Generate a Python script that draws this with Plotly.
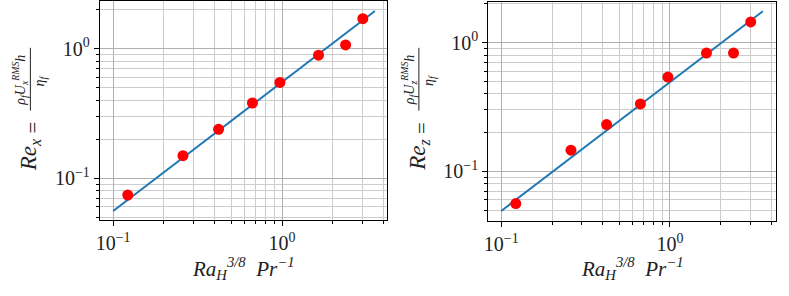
import plotly.graph_objects as go

# ---- data ----
x_vals = [0.122, 0.259, 0.421, 0.668, 0.972, 1.645, 2.38, 3.01]
rex_vals = [0.074, 0.149, 0.238, 0.380, 0.548, 0.889, 1.067, 1.70]
rez_vals = [0.0563, 0.146, 0.231, 0.334, 0.540, 0.828, 0.828, 1.446]

fit_x = [0.1, 3.55]
fit_rex = [0.0557, 1.95]
fit_rez = [0.0493, 1.75]

major_x = [0.1, 1]
major_x_text = ["10<sup>−1</sup>", "10<sup>0</sup>"]
major_y = [0.1, 1]
major_y_text = ["10<sup>−1</sup>", "10<sup>0</sup>"]
minor_x = [0.2, 0.3, 0.4, 0.5, 0.6, 0.7, 0.8, 0.9, 2, 3, 4]
minor_y = [0.05, 0.06, 0.07, 0.08, 0.09, 0.2, 0.3, 0.4, 0.5, 0.6, 0.7, 0.8, 0.9, 2]

W, H = 789, 296
FONT = "Liberation Serif, DejaVu Serif, Times New Roman, serif"
LINE_C = "#1f77b4"
DOT_C = "#ff0000"


def px(x):
    return x / W


def py(y):
    return 1 - y / H


fig = go.Figure()
fig.add_trace(go.Scatter(x=fit_x, y=fit_rex, mode="lines", line=dict(color=LINE_C, width=2),
                         xaxis="x", yaxis="y", showlegend=False))
fig.add_trace(go.Scatter(x=x_vals, y=rex_vals, mode="markers", marker=dict(color=DOT_C, size=11),
                         xaxis="x", yaxis="y", showlegend=False, cliponaxis=False))
fig.add_trace(go.Scatter(x=fit_x, y=fit_rez, mode="lines", line=dict(color=LINE_C, width=2),
                         xaxis="x2", yaxis="y2", showlegend=False))
fig.add_trace(go.Scatter(x=x_vals, y=rez_vals, mode="markers", marker=dict(color=DOT_C, size=11),
                         xaxis="x2", yaxis="y2", showlegend=False, cliponaxis=False))


def axis_common(vals, text, minor_vals, rng, domain, anchor):
    return dict(
        type="log", range=rng, domain=domain, anchor=anchor,
        tickmode="array", tickvals=vals, ticktext=text,
        ticks="outside", ticklen=5, tickwidth=1, tickcolor="black",
        showline=True, linecolor="black", linewidth=1, mirror=True,
        showgrid=True, gridcolor="#b0b0b0", gridwidth=1,
        zeroline=False,
        tickfont=dict(family=FONT, size=20, color="#222"),
        minor=dict(tickmode="array", tickvals=minor_vals, ticks="outside", ticklen=3,
                   tickwidth=1, tickcolor="black", showgrid=True,
                   gridcolor="#cccccc", gridwidth=1),
    )


fig.update_layout(
    width=W, height=H,
    margin=dict(l=0, r=0, t=0, b=0),
    paper_bgcolor="white", plot_bgcolor="white",
    xaxis=axis_common(major_x, major_x_text, minor_x, [-1.079, 0.622],
                      [px(96.3), px(385)], "y"),
    yaxis=axis_common(major_y, major_y_text, minor_y, [-1.325, 0.367],
                      [py(220), py(0)], "x"),
    xaxis2=axis_common(major_x, major_x_text, minor_x, [-1.077, 0.627],
                       [px(486.7), px(775.7)], "y2"),
    yaxis2=axis_common(major_y, major_y_text, minor_y, [-1.387, 0.311],
                       [py(221), py(1.5)], "x2"),
)

annotations = []
shapes = []


def add_text(text, xc, yc, size, angle=0):
    annotations.append(dict(text=text, x=px(xc), y=py(yc), xref="paper", yref="paper",
                            xanchor="center", yanchor="middle", showarrow=False,
                            textangle=angle, font=dict(family=FONT, size=size, color="#222")))


# x titles
xtitle = "<i>Ra<sub>H</sub><sup>3/8</sup></i>  <i>Pr<sup>−1</sup></i>"
add_text(xtitle, 240.7, 268.5, 21)
add_text(xtitle, 631, 268.5, 21)

# y titles (fraction built from pieces)
for (cx, sub) in [(0, "x"), (390.5, "z")]:
    add_text("<i>Re<sub>%s</sub></i>" % sub, 27 + cx, 154, 23, -90)
    add_text("=", 29 + cx, 127, 21, -90)
    add_text("<i>ρ<sub>f</sub>U<sub>%s</sub><sup>RMS</sup>h</i>" % sub, 16 + cx, 79, 14, -90)
    add_text("<i>η<sub>f</sub></i>", 37 + cx, 80, 14, -90)
    shapes.append(dict(type="line", xref="paper", yref="paper",
                       x0=px(26.5 + cx), x1=px(26.5 + cx), y0=py(47), y1=py(110),
                       line=dict(color="#222", width=1)))

fig.update_layout(annotations=annotations, shapes=shapes)
fig.write_html("out.html", config={"displayModeBar": False},
               post_script="document.body.style.margin='0';document.body.style.overflow='hidden';")
